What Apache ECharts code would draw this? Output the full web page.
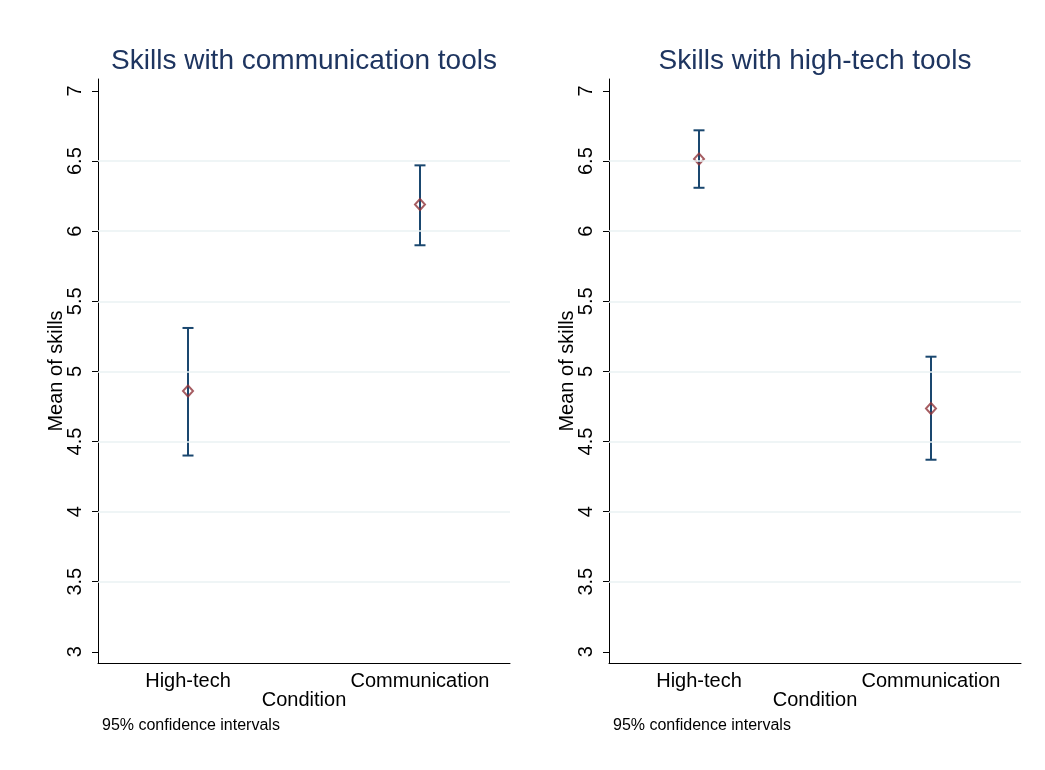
<!DOCTYPE html>
<html>
<head>
<meta charset="utf-8">
<script src="https://cdn.jsdelivr.net/npm/echarts@6/dist/echarts.min.js"></script>
<style>
  html, body { margin: 0; padding: 0; background: #ffffff; }
  #chart { width: 1045px; height: 770px; }
</style>
</head>
<body>
<div id="chart"></div>
<script>
// Condition groups on the x axis (0 = High-tech, 1 = Communication)
const categories = ['High-tech', 'Communication'];
const panelTitles = ['Skills with communication tools', 'Skills with high-tech tools'];

// Mean of skills with 95% confidence limits, one array per panel
const commMean  = [4.86, 6.19];
const commLower = [4.40, 5.90];
const commUpper = [5.31, 6.47];

const techMean  = [6.515, 4.735];
const techLower = [6.31, 4.37];
const techUpper = [6.72, 5.105];

const yTicks = [3, 3.5, 4, 4.5, 5, 5.5, 6, 6.5, 7];
const yGridValues = [3.5, 4, 4.5, 5, 5.5, 6, 6.5];

const NAVY = '#1a476f';
const MAROON = '#90353b';
const TITLE = '#1e3560';
const FONT = '"Liberation Sans", Arial, Helvetica, sans-serif';

const chart = echarts.init(document.getElementById('chart'), null, { renderer: 'canvas' });

const grids = [
  { left: 98, right: 535, top: 79, bottom: 107 },
  { left: 609, right: 24, top: 79, bottom: 107 }
];

function makeXAxis(i) {
  return {
    type: 'value', gridIndex: i, min: -0.388, max: 1.388,
    name: 'Condition', nameLocation: 'middle', nameGap: 27, nameMoveOverlap: false,
    nameTextStyle: { color: '#000', fontSize: 20, fontFamily: FONT },
    axisLine: { show: true, onZero: false, lineStyle: { color: '#000', width: 1 } },
    axisTick: { show: false, customValues: [0, 1] },
    splitLine: { show: false },
    axisLabel: {
      customValues: [0, 1], color: '#000', fontSize: 20, fontFamily: FONT, margin: 8,
      formatter: v => categories[Math.round(v)]
    }
  };
}

function makeYAxis(i) {
  return {
    type: 'value', gridIndex: i, min: 2.92, max: 7.086,
    name: 'Mean of skills', nameLocation: 'middle', nameGap: 32, nameRotate: 90, nameMoveOverlap: false,
    nameTextStyle: { color: '#000', fontSize: 20, fontFamily: FONT },
    axisLine: { show: true, onZero: false, lineStyle: { color: '#000', width: 1 } },
    axisTick: { show: true, length: 6, customValues: yTicks, lineStyle: { color: '#000' } },
    splitLine: { show: false },
    axisLabel: {
      customValues: yTicks, rotate: 90, color: '#000', fontSize: 20, fontFamily: FONT, margin: 13,
      formatter: v => String(v)
    }
  };
}

function errorBarSeries(i, lower, upper) {
  return {
    type: 'custom', xAxisIndex: i, yAxisIndex: i, silent: true, z: 3,
    data: lower.map((lo, k) => [k, lo, upper[k]]),
    renderItem: (params, api) => {
      const x = api.value(0);
      const lo = api.coord([x, api.value(1)]);
      const hi = api.coord([x, api.value(2)]);
      const half = 5.5;
      const style = { stroke: NAVY, lineWidth: 2 };
      return {
        type: 'group',
        children: [
          { type: 'line', shape: { x1: lo[0], y1: lo[1], x2: hi[0], y2: hi[1] }, style },
          { type: 'line', shape: { x1: hi[0] - half, y1: hi[1], x2: hi[0] + half, y2: hi[1] }, style },
          { type: 'line', shape: { x1: lo[0] - half, y1: lo[1], x2: lo[0] + half, y2: lo[1] }, style }
        ]
      };
    }
  };
}

function meanSeries(i, mean) {
  return {
    type: 'scatter', xAxisIndex: i, yAxisIndex: i, silent: true, z: 4,
    symbol: 'diamond', symbolSize: [10, 11],
    itemStyle: { color: 'rgba(255,255,255,0)', borderColor: MAROON, borderWidth: 2 },
    data: mean.map((m, k) => [k, m])
  };
}

function gridLineSeries(i) {
  return {
    type: 'line', xAxisIndex: i, yAxisIndex: i, data: [], silent: true, z: 1,
    markLine: {
      silent: true, symbol: 'none', label: { show: false },
      lineStyle: { color: '#eaf2f3', width: 1.5, type: 'solid' },
      emphasis: { disabled: true },
      animation: false,
      data: yGridValues.map(v => ({ yAxis: v }))
    }
  };
}

const titleStyle = { color: TITLE, fontSize: 28, fontWeight: 'normal', fontFamily: FONT };
const noteStyle = { color: '#000', fontSize: 16, fontWeight: 'normal', fontFamily: FONT };

const option = {
  backgroundColor: '#ffffff',
  animation: false,
  title: [
    { text: panelTitles[0], left: 299, top: 42, textAlign: 'center', textStyle: titleStyle },
    { text: panelTitles[1], left: 810, top: 42, textAlign: 'center', textStyle: titleStyle },
    { text: '95% confidence intervals', left: 97, top: 713, textStyle: noteStyle },
    { text: '95% confidence intervals', left: 608, top: 713, textStyle: noteStyle }
  ],
  grid: grids,
  xAxis: [makeXAxis(0), makeXAxis(1)],
  yAxis: [makeYAxis(0), makeYAxis(1)],
  series: [
    gridLineSeries(0), gridLineSeries(1),
    errorBarSeries(0, commLower, commUpper), meanSeries(0, commMean),
    errorBarSeries(1, techLower, techUpper), meanSeries(1, techMean)
  ]
};

chart.setOption(option);
</script>
</body>
</html>
